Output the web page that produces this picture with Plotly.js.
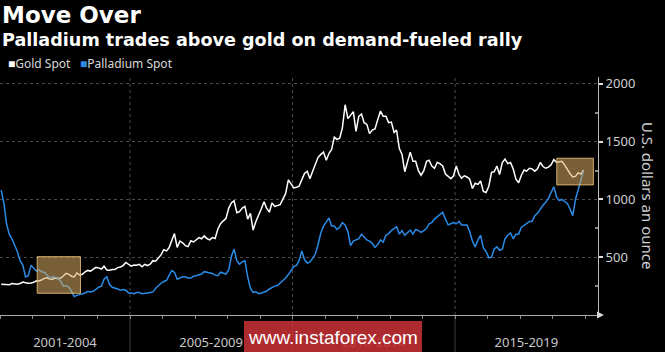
<!DOCTYPE html>
<html>
<head>
<meta charset="utf-8">
<script src="https://cdn.plot.ly/plotly-3.0.1.min.js"></script>
<style>
html,body{margin:0;padding:0;background:#000;}
#chart{width:665px;height:352px;}
</style>
</head>
<body>
<div id="chart"></div>
<script>
// ---- data (monthly, Jan 2001 - Dec 2018), USD per ounce ----
const startYear = 2001;
const goldSpot = [
 266,262,264,261,272,271,267,273,285,280,275,277,
 283,296,295,304,317,322,312,310,321,315,320,340,
 360,352,335,330,364,347,353,373,386,380,396,412,
 408,398,422,390,388,394,393,410,415,428,455,440,
 422,433,430,438,418,438,428,440,470,465,490,520,
 565,555,582,650,705,585,640,625,600,592,642,632,
 652,670,660,685,662,650,670,662,745,790,815,835,
 925,972,988,885,895,925,940,830,880,735,810,860,
 920,980,925,890,970,940,950,955,1005,1050,1170,1140,
 1100,1105,1115,1170,1225,1245,1180,1245,1305,1365,1390,1410,
 1340,1400,1430,1540,1520,1530,1620,1820,1700,1730,1760,1590,
 1720,1740,1665,1650,1570,1600,1610,1690,1765,1720,1720,1665,
 1670,1580,1600,1440,1390,1240,1330,1410,1330,1330,1250,1210,
 1250,1330,1340,1290,1270,1320,1310,1290,1220,1200,1180,1205,
 1290,1215,1185,1205,1195,1175,1095,1140,1130,1160,1070,1060,
 1115,1235,1240,1290,1215,1320,1350,1310,1320,1265,1175,1145,
 1210,1255,1245,1270,1265,1245,1265,1320,1285,1270,1280,1300,
 1345,1320,1325,1330,1300,1255,1225,1195,1200,1230,1220,1255
];
const palladiumSpot = [
 1080,960,790,700,660,600,550,470,430,330,340,430,
 400,380,390,375,370,340,320,330,325,320,290,250,
 255,240,205,160,170,175,180,190,205,200,205,225,
 240,250,310,330,265,240,235,225,215,220,215,190,
 190,185,195,195,185,185,190,195,200,230,255,275,
 290,300,340,385,370,310,320,330,330,320,320,335,
 340,345,355,375,370,370,360,345,340,370,365,355,
 390,510,570,470,440,460,470,330,230,195,200,185,
 190,200,205,225,240,250,255,275,300,320,350,380,
 420,430,470,555,480,450,460,490,530,610,710,770,
 810,840,770,770,740,760,800,780,720,600,640,650,
 660,700,680,650,640,620,585,610,650,630,690,705,
 730,745,765,700,730,690,710,735,700,740,730,715,
 730,750,790,800,830,850,870,890,830,780,790,800,
 790,810,780,780,780,720,640,590,650,690,580,550,
 495,500,570,590,560,570,660,690,710,660,700,700,
 760,775,790,810,810,860,880,920,950,975,1010,1060,
 1110,1020,990,1000,980,965,920,860,1000,1080,1150,1250
];
const periodLabels = ["2001-2004","2005-2009","2010-2014","2015-2019"];
const periodCenters = ["2003-01-01","2007-07-01","2012-07-01","2017-03-12"];
const periodBreaks = ["2005-01-01","2010-01-01","2015-01-01"];
const yTicks = [500,1000,1500,2000];
const highlightX = [["2002-02-23","2003-06-24"],["2018-02-17","2019-04-04"]];
const highlightY = [[188,505],[1126,1357]];

const dates = goldSpot.map((_, i) => {
  const y = startYear + Math.floor(i / 12);
  const m = (i % 12) + 1;
  return y + "-" + String(m).padStart(2, "0") + "-15";
});

const GOLD = "#ffffff";
const PALL = "#2a8be6";

const traces = [
  {x: dates, y: goldSpot, type: "scatter", mode: "lines", name: "Gold Spot",
   line: {color: GOLD, width: 1.5}, hoverinfo: "skip"},
  {x: dates, y: palladiumSpot, type: "scatter", mode: "lines", name: "Palladium Spot",
   line: {color: PALL, width: 1.5}, hoverinfo: "skip"}
];

const PH = 238; // plot height px
const PW = 598; // plot width px
const py = p => (315 - p) / PH; // pixel y -> paper y
const px = p => p / PW;

const shapes = [];
periodBreaks.forEach(d => {
  shapes.push({type: "line", xref: "x", yref: "paper", x0: d, x1: d, y0: 0, y1: 1,
    line: {color: "#4a4a4a", width: 1, dash: "dot"}, layer: "below"});
  shapes.push({type: "line", xref: "x", yref: "paper", x0: d, x1: d, y0: py(352), y1: 0,
    line: {color: "#3c3c3c", width: 1}, layer: "below"});
});
highlightX.forEach((hx, i) => {
  shapes.push({type: "rect", xref: "x", yref: "y", x0: hx[0], x1: hx[1],
    y0: highlightY[i][0], y1: highlightY[i][1],
    fillcolor: "rgba(218,173,100,0.55)", line: {color: "rgba(225,185,115,0.9)", width: 1},
    layer: "above"});
});
// x-axis arrow head
shapes.push({type: "path", xref: "paper", yref: "paper",
  path: `M ${px(597)} ${py(311.5)} L ${px(604)} ${py(315)} L ${px(597)} ${py(318.5)} Z`,
  fillcolor: "#d8d8d8", line: {width: 0}, layer: "above"});
// watermark box
shapes.push({type: "rect", xref: "paper", yref: "paper", x0: px(244), x1: px(422),
  y0: py(354), y1: py(321), fillcolor: "rgba(192,48,52,0.9)", line: {width: 0}, layer: "above"});

const annotations = [
  {text: "<b>Move Over</b>", xref: "paper", yref: "paper", x: px(0), y: py(15),
   xanchor: "left", yanchor: "middle", showarrow: false,
   font: {family: "DejaVu Sans", size: 23, color: "#ffffff"}},
  {text: "<b>Palladium trades above gold on demand-fueled rally</b>", xref: "paper", yref: "paper",
   x: px(0), y: py(40), xanchor: "left", yanchor: "middle", showarrow: false,
   font: {family: "DejaVu Sans", size: 17.6, color: "#ffffff"}},
  {text: "<span style='color:" + GOLD + "'>■</span>Gold Spot", xref: "paper", yref: "paper",
   x: px(6), y: py(63), xanchor: "left", yanchor: "middle", showarrow: false,
   font: {family: "Noto Sans", size: 12, color: "#d8d8d8"}},
  {text: "<span style='color:" + PALL + "'>■</span>Palladium Spot", xref: "paper", yref: "paper",
   x: px(78), y: py(63), xanchor: "left", yanchor: "middle", showarrow: false,
   font: {family: "Noto Sans", size: 12, color: "#d8d8d8"}},
  {text: "U.S. dollars an ounce", xref: "paper", yref: "paper", x: px(648), y: py(195),
   xanchor: "center", yanchor: "middle", textangle: 90, showarrow: false,
   font: {family: "Noto Sans", size: 15, color: "#d0d0d0"}},
  {text: "www.instaforex.com", xref: "paper", yref: "paper", x: px(333), y: py(337),
   xanchor: "center", yanchor: "middle", showarrow: false,
   font: {family: "Liberation Sans", size: 19, color: "#ffffff"}}
];

const layout = {
  width: 665, height: 352,
  paper_bgcolor: "#000000", plot_bgcolor: "#000000",
  margin: {l: 0, r: 67, t: 77, b: 37, pad: 0},
  showlegend: false,
  xaxis: {
    type: "date", range: ["2001-01-01", "2019-05-26"],
    showgrid: false, zeroline: false,
    showline: true, linecolor: "#aaaaaa", linewidth: 1,
    tickmode: "array", tickvals: periodCenters, ticktext: periodLabels,
    ticks: "", ticklabelstandoff: 15,
    tickfont: {family: "Noto Sans", size: 13, color: "#c8c8c8"},
    minor: {dtick: "M12", tick0: "2001-01-01", ticks: "outside", ticklen: 3,
            tickcolor: "#888888", showgrid: false}
  },
  yaxis: {
    side: "right", range: [0, 2060],
    tickmode: "array", tickvals: yTicks,
    showgrid: true, gridcolor: "#4a4a4a", griddash: "dot", gridwidth: 1,
    zeroline: false,
    showline: true, linecolor: "#bbbbbb", linewidth: 1,
    ticks: "outside", ticklen: 4, tickwidth: 2, tickcolor: "#dddddd",
    tickfont: {family: "Noto Sans", size: 13, color: "#d0d0d0"},
    minor: {tickvals: [250,750,1250,1750], ticks: "inside", ticklen: 3,
            tickcolor: "#888888", showgrid: false}
  },
  shapes: shapes,
  annotations: annotations
};

Plotly.newPlot("chart", traces, layout, {staticPlot: true, displayModeBar: false});
</script>
</body>
</html>
